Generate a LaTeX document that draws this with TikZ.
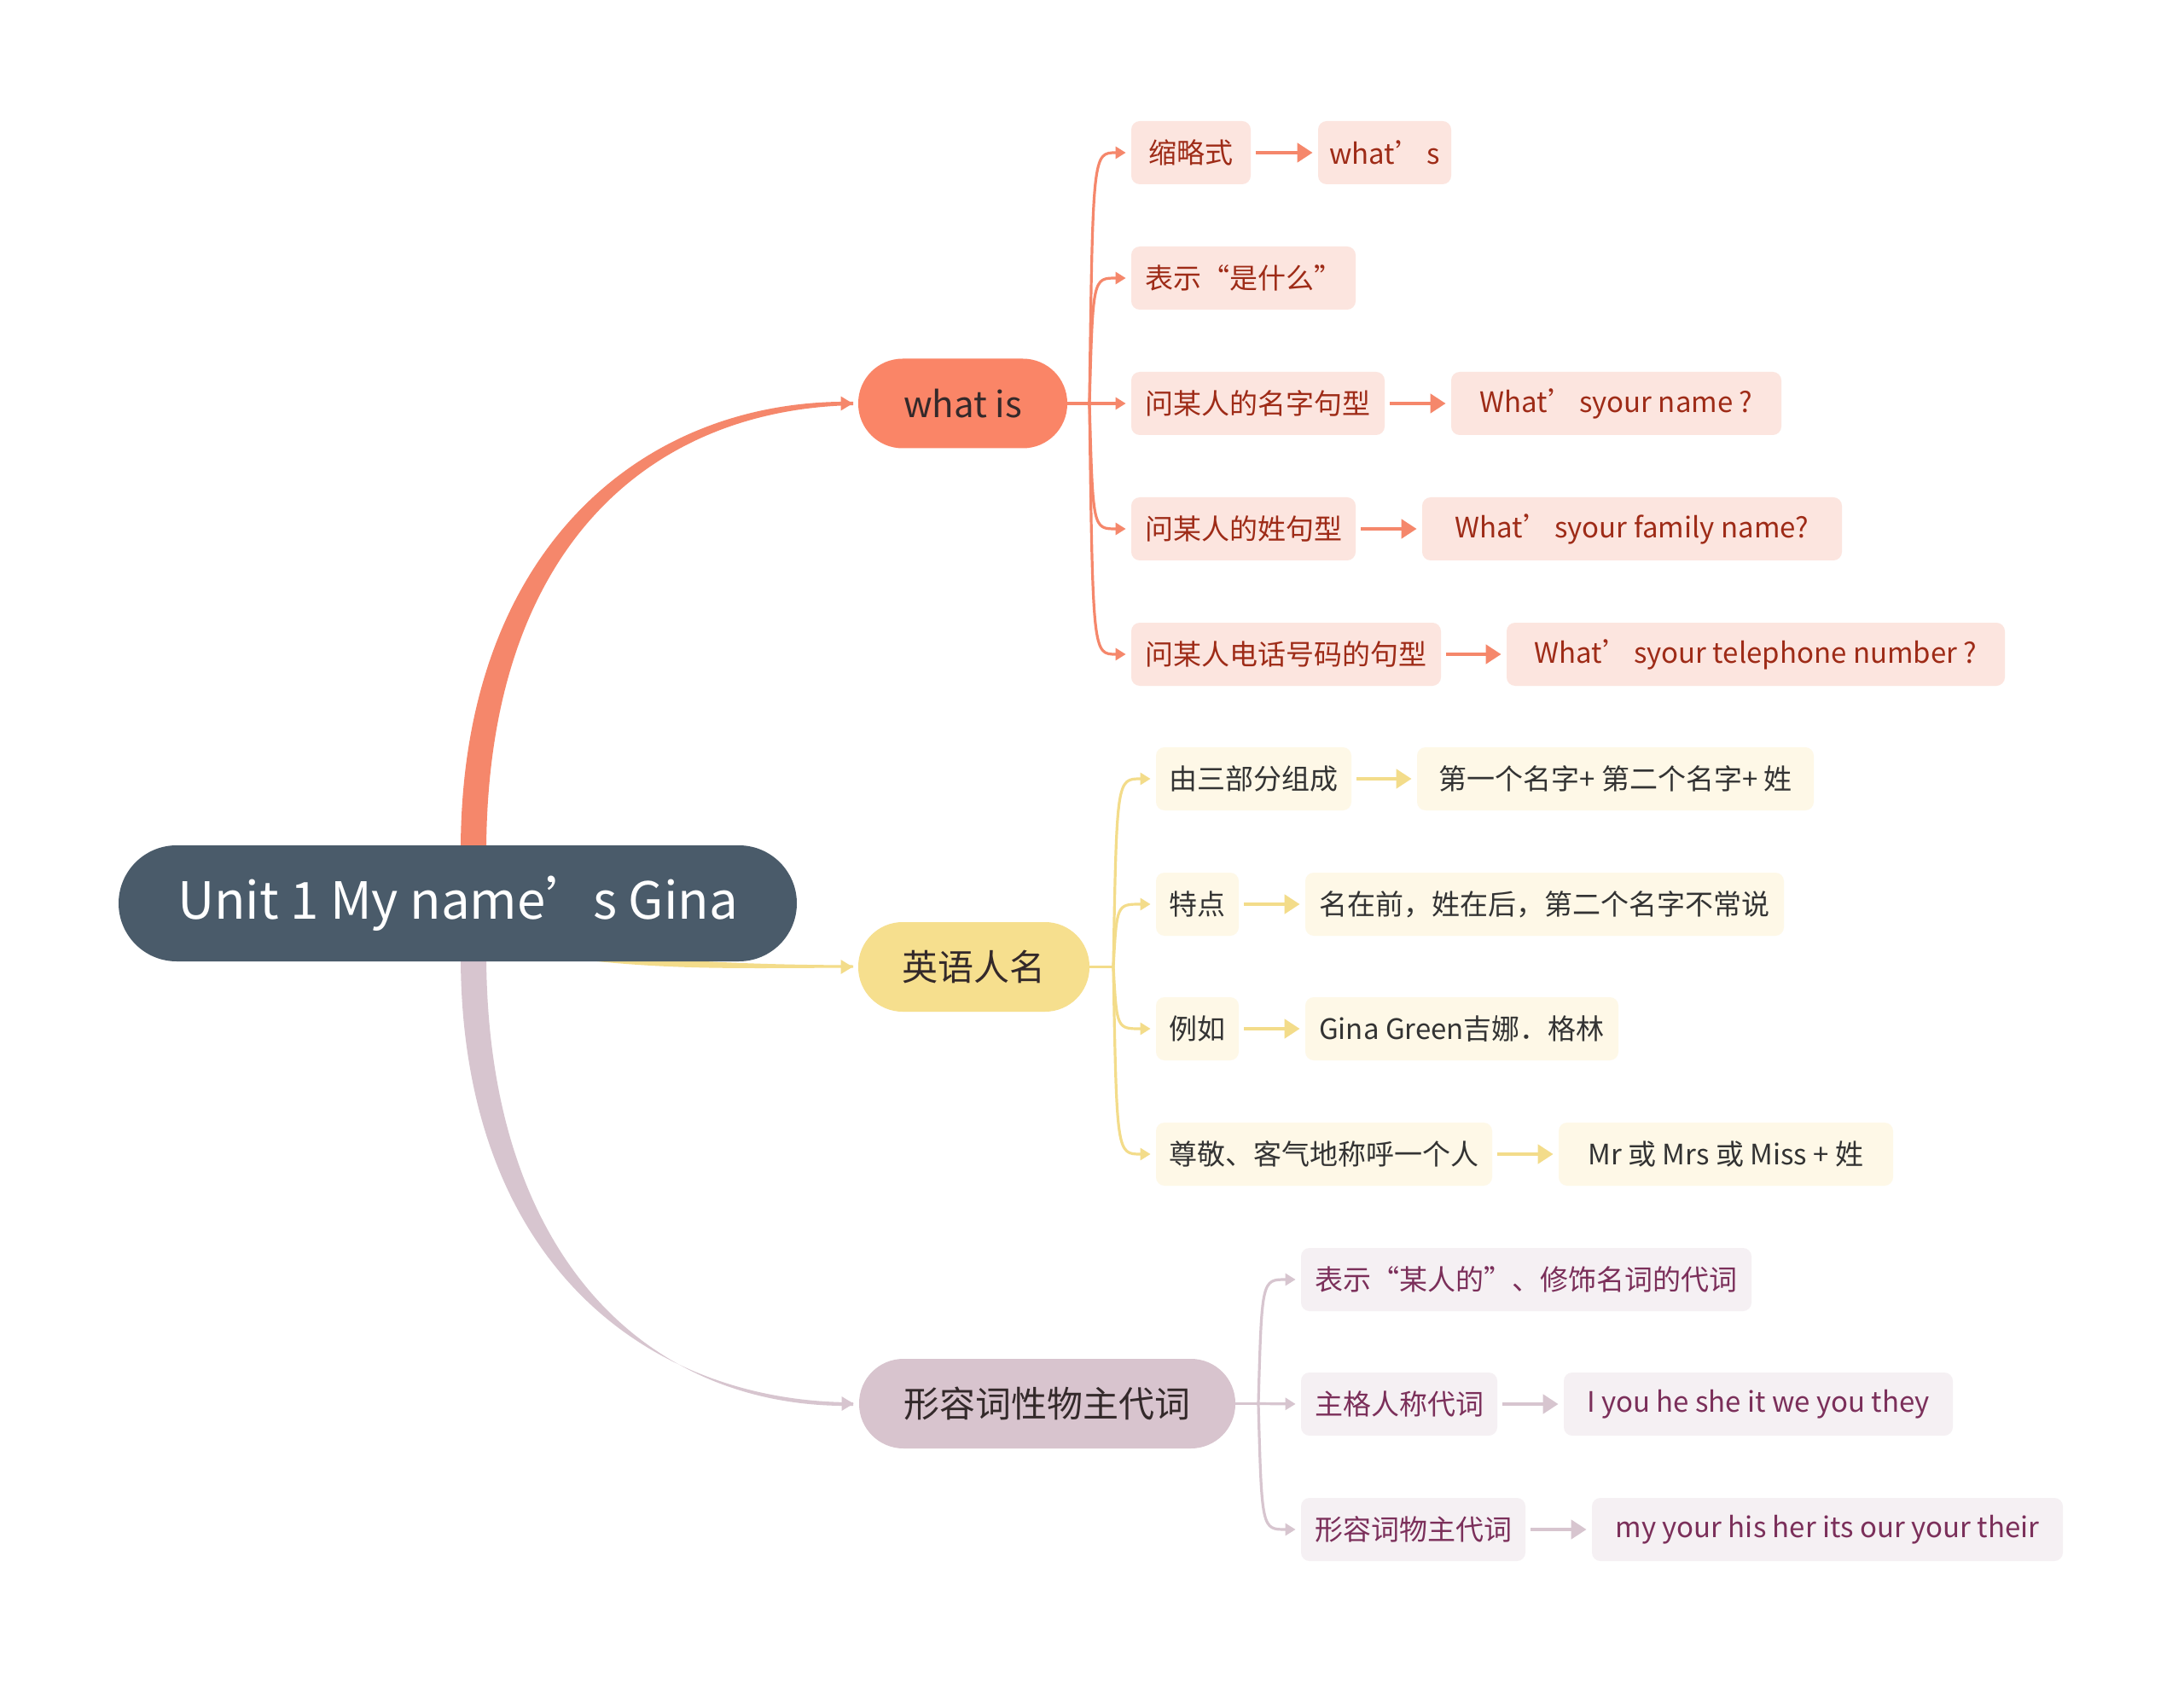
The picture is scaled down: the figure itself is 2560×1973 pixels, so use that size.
\documentclass[tikz,border=0pt]{standalone}
\usepackage{fontspec}
\setmainfont{Noto Sans CJK SC}
\usetikzlibrary{arrows.meta,calc}
\definecolor{rootc}{HTML}{4A5B6A}
\definecolor{orangec}{HTML}{FA8567}
\definecolor{orangeline}{HTML}{F5876B}
\definecolor{orangelight}{HTML}{FCE5DF}
\definecolor{orangetext}{HTML}{9E2B17}
\definecolor{yellowc}{HTML}{F6DF8E}
\definecolor{yellowline}{HTML}{F3DC8A}
\definecolor{yellowlight}{HTML}{FEF8E7}
\definecolor{yellowtext}{HTML}{333333}
\definecolor{mauvec}{HTML}{D8C4CE}
\definecolor{mauveline}{HTML}{D7C5CF}
\definecolor{mauvelight}{HTML}{F5F0F3}
\definecolor{mauvetext}{HTML}{7B2F5A}
\definecolor{maintext}{HTML}{33292A}
\newcommand{\myapos}{’\hspace{-0.3em}}
\newcommand{\leafapos}{’\hspace{-0.1em}}
\tikzset{
  rootbox/.style={fill=rootc, text=white, rounded corners=34pt, minimum height=68pt, inner sep=0pt, font=\fontsize{30}{34}\selectfont},
  mainbox/.style={rounded corners=26pt, minimum height=52.5pt, inner sep=0pt, text=maintext, font=\fontsize{21}{25}\selectfont},
  leafbox/.style={rounded corners=5pt, minimum height=37pt, inner sep=0pt, font=\fontsize{16.5}{20}\selectfont},
  oleaf/.style={leafbox, fill=orangelight, text=orangetext},
  yleaf/.style={leafbox, fill=yellowlight, text=yellowtext},
  mleaf/.style={leafbox, fill=mauvelight, text=mauvetext},
  branch/.style={line width=1.6pt, shorten >=3pt},
  obranch/.style={branch, draw=orangeline, -{Triangle[length=6pt,width=7pt,fill=orangeline]}},
  ybranch/.style={branch, draw=yellowline, -{Triangle[length=6pt,width=7pt,fill=yellowline]}},
  mbranch/.style={branch, draw=mauveline, -{Triangle[length=6pt,width=7pt,fill=mauveline]}},
  link/.style={line width=2.4pt, -{Triangle[length=9pt,width=11pt]}, shorten >=3pt, shorten <=3pt},
  olink/.style={link, draw=orangeline},
  ylink/.style={link, draw=yellowline},
  mlink/.style={link, draw=mauveline},
  tip/.style={line width=1.5pt, shorten >=3pt}
}
\begin{document}
\begin{tikzpicture}[x=0.5pt,y=-0.5pt]
\useasboundingbox (0,0) rectangle (2560,1973);
\fill[white] (0,0) rectangle (2560,1973);

% tapered main connectors
\fill[orangeline] (540,995) .. controls (541,640) and (757,467) .. (1000,471)
  -- (1000,475) .. controls (763,480) and (572,640) .. (570,995) -- cycle;
\fill[mauveline] (540,1123) .. controls (541,1478) and (757,1644) .. (1000,1644)
  -- (1000,1648) .. controls (763,1652) and (572,1478) .. (570,1123) -- cycle;
\fill[yellowline] (700,1117) .. controls (800,1127) and (880,1131) .. (1000,1131.5)
  -- (1000,1134.5) .. controls (880,1135) and (800,1137) .. (700,1127) -- cycle;

% main nodes
\node[rootbox, minimum width=397.5pt] (root) at (536.5,1059) {Unit 1 My name\myapos{} s Gina};
\node[mainbox, fill=orangec, minimum width=122.5pt] (what) at (1128.5,473) {what is};
\node[mainbox, fill=yellowc, minimum width=135.5pt] (eng) at (1141.5,1133.5) {英语人名};
\node[mainbox, fill=mauvec, minimum width=220.5pt] (adj) at (1227.5,1645.5) {形容词性物主代词};

\draw[tip, draw=orangeline, -{Triangle[length=7pt,width=8pt,fill=orangeline]}] ($(what.west)+(-12,0)$) -- (what.west);
\draw[tip, draw=yellowline, -{Triangle[length=7pt,width=8pt,fill=yellowline]}] ($(eng.west)+(-12,0)$) -- (eng.west);
\draw[tip, draw=mauveline, -{Triangle[length=7pt,width=8pt,fill=mauveline]}] ($(adj.west)+(-12,0)$) -- (adj.west);

% orange leaves
\node[oleaf, minimum width=70pt] (o1) at (1396,179) {缩略式};
\node[oleaf, minimum width=78pt] (o1b) at (1623,179) {what\leafapos{} s};
\node[oleaf, minimum width=131.5pt] (o2) at (1457.5,326) {表示“是什么”};
\node[oleaf, minimum width=148.5pt] (o3) at (1474.5,473) {问某人的名字句型};
\node[oleaf, minimum width=193.5pt] (o3b) at (1894.5,473) {What\leafapos{} syour name ?};
\node[oleaf, minimum width=131.5pt] (o4) at (1457.5,620) {问某人的姓句型};
\node[oleaf, minimum width=246pt] (o4b) at (1913,620) {What\leafapos{} syour family name?};
\node[oleaf, minimum width=181.5pt] (o5) at (1507.5,767) {问某人电话号码的句型};
\node[oleaf, minimum width=292pt] (o5b) at (2058,767) {What\leafapos{} syour telephone number ?};

% yellow leaves
\node[yleaf, minimum width=114.5pt] (y1) at (1469.5,913) {由三部分组成};
\node[yleaf, minimum width=232.5pt] (y1b) at (1893.5,913) {第一个名字+ 第二个名字+ 姓};
\node[yleaf, minimum width=48.5pt] (y2) at (1403.5,1060) {特点};
\node[yleaf, minimum width=280.5pt] (y2b) at (1810.5,1060) {名在前，姓在后，第二个名字不常说};
\node[yleaf, minimum width=48.5pt] (y3) at (1403.5,1206) {例如};
\node[yleaf, minimum width=183.5pt] (y3b) at (1713.5,1206) {Gina Green吉娜．格林};
\node[yleaf, minimum width=197pt] (y4) at (1552,1353) {尊敬、客气地称呼一个人};
\node[yleaf, minimum width=196pt] (y4b) at (2023,1353) {Mr 或 Mrs 或 Miss + 姓};

% mauve leaves
\node[mleaf, minimum width=264pt] (m1) at (1789,1500) {表示“某人的”、修饰名词的代词};
\node[mleaf, minimum width=115pt] (m2) at (1640,1646) {主格人称代词};
\node[mleaf, minimum width=228pt] (m2b) at (2061,1646) {I you he she it we you they};
\node[mleaf, minimum width=131.5pt] (m3) at (1656.5,1793) {形容词物主代词};
\node[mleaf, minimum width=276pt] (m3b) at (2142,1793) {my your his her its our your their};

% trunk points
\coordinate (ot) at (1277,473);
\coordinate (yt) at (1305,1133.5);
\coordinate (mt) at (1475,1645.5);

% orange branches
\draw[orangeline, line width=1.6pt] (what.east) -- (ot);
\draw[obranch] (ot) .. controls (1281,179) and (1281,179) .. (o1.west);
\draw[obranch] (ot) .. controls (1281,326) and (1281,326) .. (o2.west);
\draw[obranch] (ot) -- (o3.west);
\draw[obranch] (ot) .. controls (1281,620) and (1281,620) .. (o4.west);
\draw[obranch] (ot) .. controls (1281,767) and (1281,767) .. (o5.west);

% yellow branches
\draw[yellowline, line width=1.6pt] (eng.east) -- (yt);
\draw[ybranch] (yt) .. controls (1309,913) and (1309,913) .. (y1.west);
\draw[ybranch] (yt) .. controls (1309,1060) and (1309,1060) .. (y2.west);
\draw[ybranch] (yt) .. controls (1309,1206) and (1309,1206) .. (y3.west);
\draw[ybranch] (yt) .. controls (1309,1353) and (1309,1353) .. (y4.west);

% mauve branches
\draw[mauveline, line width=1.6pt] (adj.east) -- (mt);
\draw[mbranch] (mt) .. controls (1479,1500) and (1479,1500) .. (m1.west);
\draw[mbranch] (mt) -- (m2.west);
\draw[mbranch] (mt) .. controls (1479,1793) and (1479,1793) .. (m3.west);

% level-3 links
\draw[olink] (o1) -- (o1b);
\draw[olink] (o3) -- (o3b);
\draw[olink] (o4) -- (o4b);
\draw[olink] (o5) -- (o5b);
\draw[ylink] (y1) -- (y1b);
\draw[ylink] (y2) -- (y2b);
\draw[ylink] (y3) -- (y3b);
\draw[ylink] (y4) -- (y4b);
\draw[mlink] (m2) -- (m2b);
\draw[mlink] (m3) -- (m3b);
\end{tikzpicture}
\end{document}
